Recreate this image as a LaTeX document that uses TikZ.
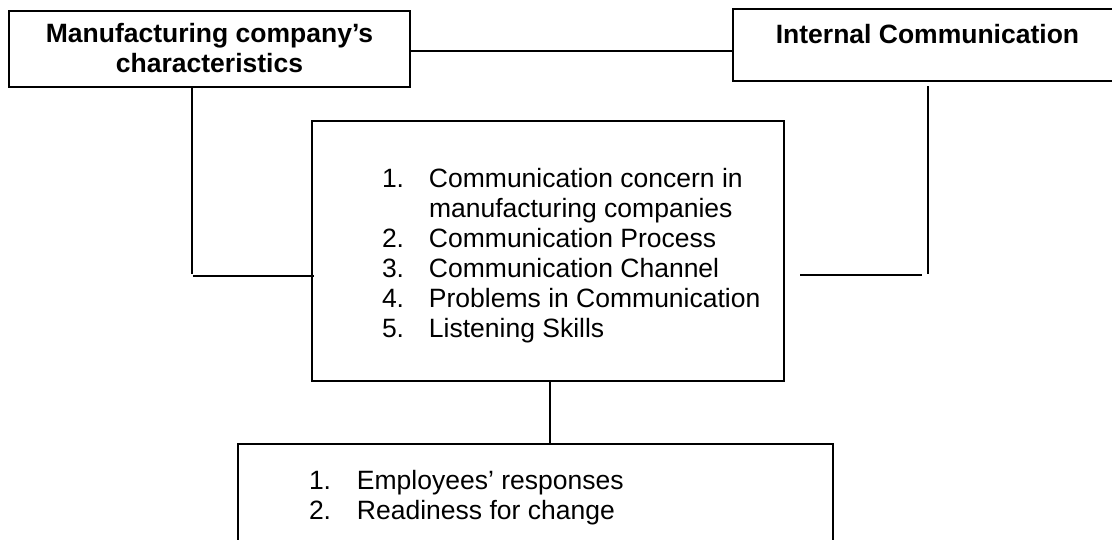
\documentclass[tikz,border=0pt]{standalone}
\usepackage{fontspec}
\setmainfont{Liberation Sans}
\begin{document}
\begin{tikzpicture}[x=1pt,y=-1pt,
  frame/.style={draw=black,line width=1.6pt,inner sep=0pt,outer sep=0pt,anchor=north west},
  link/.style={draw=black,line width=1.6pt},
  txt/.style={inner sep=0pt,outer sep=0pt,font=\fontsize{26.5}{30}\selectfont},
  headtxt/.style={txt,font=\fontsize{26.5}{30}\selectfont\bfseries,anchor=base},
  listtxt/.style={txt,anchor=base west}]
\useasboundingbox (0,0) rectangle (1112,539);
\clip (0,0) rectangle (1112,539);

% boxes
\node[frame,minimum width=401pt,minimum height=76pt] (mfg) at (9,11) {};
\node[frame,minimum width=389pt,minimum height=72pt] (int) at (733,9) {};
\node[frame,minimum width=472pt,minimum height=260pt] (core) at (312,121) {};
\node[frame,minimum width=595pt,minimum height=150pt] (base) at (238,444) {};

% box texts
\node[headtxt] (mfgtext) at (209.5,42)
  {\begin{tabular}[t]{@{}c@{}}Manufacturing company’s\\characteristics\end{tabular}};
\node[headtxt] (inttext) at (927.5,43) {Internal Communication};
\node[listtxt] (coretext) at (382,187)
  {\begin{tabular}[t]{@{}l@{}}
   \makebox[47pt][l]{1.}Communication concern in\\
   \hspace*{47pt}manufacturing companies\\
   \makebox[47pt][l]{2.}Communication Process\\
   \makebox[47pt][l]{3.}Communication Channel\\
   \makebox[47pt][l]{4.}Problems in Communication\\
   \makebox[47pt][l]{5.}Listening Skills
   \end{tabular}};
\node[listtxt] (basetext) at (309,489)
  {\begin{tabular}[t]{@{}l@{}}
   \makebox[48pt][l]{1.}Employees’ responses\\
   \makebox[48pt][l]{2.}Readiness for change
   \end{tabular}};

% connector end points
\coordinate (toprow) at (0,51);
\coordinate (lfoot) at (192,274);
\coordinate (lrun) at (193,276);
\coordinate (rtop) at (928,86);
\coordinate (rfoot) at (928,274);
\coordinate (rrun) at (800,275);
\coordinate (rend) at (922,275);
\coordinate (stem) at (550,0);

% connectors
\draw[link] (mfg.east |- toprow) -- (int.west |- toprow);
\draw[link] (mfg.south -| lfoot) -- (lfoot);
\draw[link] (lrun) -- ([xshift=2pt]core.west |- lrun);
\draw[link] (rtop) -- (rfoot);
\draw[link] (rrun) -- (rend);
\draw[link] (core.south -| stem) -- (base.north -| stem);
\end{tikzpicture}
\end{document}
